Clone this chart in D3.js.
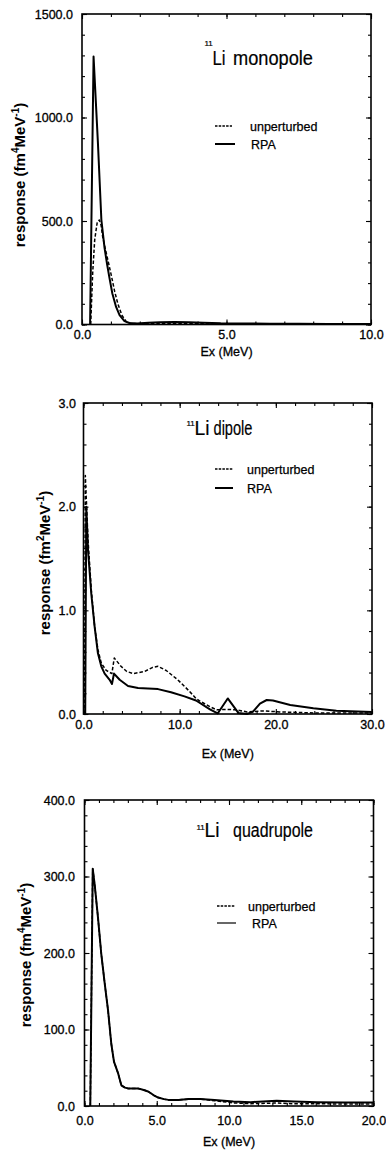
<!DOCTYPE html>
<html>
<head>
<meta charset="utf-8">
<script src="https://cdn.jsdelivr.net/npm/d3@7"></script>
<style>
  html, body { margin: 0; padding: 0; background: #fff; }
  svg { display: block; }
  text { font-family: "Liberation Sans", Arial, Helvetica, sans-serif; fill: #000; }
  .tick text { font-size: 12.5px; stroke: #000; stroke-width: 0.3px; }
  .xtitle { font-size: 12.5px; stroke: #000; stroke-width: 0.3px; }
  .ytitle { font-size: 15px; font-weight: bold; }
  .leg { font-size: 12.5px; stroke: #000; stroke-width: 0.25px; }
  .ttl { font-size: 20px; stroke: #000; stroke-width: 0.2px; }
  .sup { font-size: 8px; stroke: #000; stroke-width: 0.2px; }
</style>
</head>
<body>
<svg id="fig" width="386" height="1151"></svg>
<script>
// 11Li monopole response (fm^4 MeV^-1) vs excitation energy (MeV)
const monoUnpE = [0.30, 0.37, 0.44, 0.53, 0.60, 0.66, 0.72, 0.84, 0.93, 1.01, 1.13, 1.24, 1.38, 1.53, 1.70, 2.0, 2.5, 3.0, 4.0, 5.0, 6.0, 7.0, 8.0, 9.0, 10.0];
const monoUnpS = [0, 250, 410, 497, 505, 480, 420, 345, 290, 240, 160, 100, 45, 14, 5, 4, 5, 6, 4, 3, 3, 3, 3, 2, 2];
const monoRpaE = [0.28, 0.40, 0.55, 0.67, 0.78, 0.87, 0.95, 1.05, 1.18, 1.30, 1.47, 1.64, 1.9, 2.3, 2.7, 3.2, 3.7, 4.2, 4.8, 5.5, 6.5, 7.5, 8.5, 10.0];
const monoRpaS = [0, 1295, 880, 506, 370, 290, 225, 150, 85, 45, 16, 7, 5, 8, 11, 12, 11, 9, 6, 5, 4, 4, 3, 3];

// 11Li dipole response (fm^2 MeV^-1)
const dipUnpE = [0.12, 0.19, 0.47, 0.81, 1.16, 1.50, 1.85, 2.37, 2.95, 3.20, 3.90, 4.50, 5.15, 6.35, 7.20, 7.75, 8.60, 9.80, 10.9, 11.7, 12.1, 13.15, 13.85, 14.9, 15.9, 17.0, 18.7, 20.4, 23.9, 27.0, 30.0];
const dipUnpS = [0, 2.30, 1.68, 1.20, 0.84, 0.62, 0.49, 0.42, 0.39, 0.54, 0.46, 0.41, 0.39, 0.41, 0.45, 0.46, 0.42, 0.33, 0.23, 0.15, 0.125, 0.07, 0.04, 0.045, 0.04, 0.02, 0.03, 0.02, 0.01, 0.01, 0.01];
const dipRpaE = [0.18, 0.29, 0.47, 0.81, 1.16, 1.50, 1.85, 2.20, 2.72, 2.96, 3.17, 3.76, 4.63, 5.67, 6.70, 7.75, 9.10, 10.5, 11.7, 13.15, 13.95, 15.0, 16.1, 17.0, 17.6, 18.35, 19.05, 19.7, 21.5, 23.9, 26.3, 30.0];
const dipRpaS = [0, 2.00, 1.58, 1.16, 0.84, 0.585, 0.46, 0.39, 0.33, 0.29, 0.39, 0.33, 0.27, 0.25, 0.245, 0.24, 0.21, 0.17, 0.13, 0.045, 0.005, 0.15, 0.01, 0, 0.02, 0.10, 0.135, 0.13, 0.087, 0.055, 0.032, 0.02];

// 11Li quadrupole response (fm^4 MeV^-1)
const quadUnpE = [0.40, 0.57, 0.70, 0.93, 1.16, 1.40, 1.63, 1.85, 2.04, 2.32, 2.55, 2.80, 3.0, 3.4, 3.7, 4.1, 4.4, 4.8, 5.1, 5.5, 5.8, 6.5, 7.2, 8.0, 9.0, 10.3, 11.5, 13.3, 14.5, 16.1, 18.0, 20.0];
const quadUnpS = [0, 310, 290, 247, 199, 160, 125, 82, 58, 43, 27, 24, 23, 23, 23, 21, 19, 14, 11, 9, 8, 8, 9, 9, 7, 4, 3, 4, 3, 3, 2.5, 2.5];
const quadRpaE = [0.40, 0.57, 0.70, 0.93, 1.16, 1.40, 1.63, 1.85, 2.04, 2.32, 2.55, 2.80, 3.0, 3.4, 3.7, 4.1, 4.4, 4.8, 5.1, 5.5, 5.8, 6.5, 7.2, 8.0, 9.0, 10.3, 11.5, 13.3, 14.5, 16.1, 18.0, 20.0];
const quadRpaS = [0, 310, 290, 247, 199, 160, 125, 82, 58, 43, 27, 24, 23, 23, 23, 21, 19, 14, 11, 9, 8, 8, 9, 9, 8, 6, 5, 7, 6, 5, 4.5, 4.5];

// Axis ticks
const monoXTicks = [0, 5, 10];
const monoYTicks = [0, 500, 1000, 1500];
const dipXTicks = [0, 10, 20, 30];
const dipYTicks = [0, 1, 2, 3];
const quadXTicks = [0, 5, 10, 15, 20];
const quadYTicks = [0, 100, 200, 300, 400];

const legendNames = ["unperturbed", "RPA"];
const xTitle = "Ex (MeV)";

const panels = [
  {
    key: "mono", word: "monopole", wordLen: 80, liLen: 13, fmPow: "4",
    unp: d3.zip(monoUnpE, monoUnpS), rpa: d3.zip(monoRpaE, monoRpaS),
    xMax: 10, yMax: 1500, xTicks: monoXTicks, yTicks: monoYTicks, xMinor: 1, yMinor: 100,
    left: 82, right: 371, top: 14, bottom: 324.5,
    xPad: 6, yPad: 9, xTitleY: 356, yTitleX: 25, yTitleY: 175,
    sup: [204.5, 46], li: [212.5, 65], wordX: 233,
    leg: { dash: [215, 232, 126], unpTxt: [250, 130.5], solid: [215, 235, 144], rpaTxt: [251, 149], rpaW: 2 }
  },
  {
    key: "dip", word: "dipole", wordLen: 39, liLen: 15, fmPow: "2",
    unp: d3.zip(dipUnpE, dipUnpS), rpa: d3.zip(dipRpaE, dipRpaS),
    xMax: 30, yMax: 3, xTicks: dipXTicks, yTicks: dipYTicks, xMinor: 2, yMinor: 0.2,
    left: 83.5, right: 372, top: 403, bottom: 714,
    xPad: 6, yPad: 7.5, xTitleY: 758, yTitleX: 49.5, yTitleY: 563,
    sup: [186.5, 426], li: [194.5, 435], wordX: 213.5,
    leg: { dash: [215, 233, 469], unpTxt: [247, 474], solid: [215, 233, 488], rpaTxt: [247, 493], rpaW: 2 }
  },
  {
    key: "quad", word: "quadrupole", wordLen: 80, liLen: 15, fmPow: "4",
    unp: d3.zip(quadUnpE, quadUnpS), rpa: d3.zip(quadRpaE, quadRpaS),
    xMax: 20, yMax: 400, xTicks: quadXTicks, yTicks: quadYTicks, xMinor: 1, yMinor: 20,
    left: 84.5, right: 373.5, top: 800, bottom: 1106,
    xPad: 10, yPad: 9.5, xTitleY: 1146, yTitleX: 31, yTitleY: 955,
    sup: [196.5, 830], li: [204.5, 837], wordX: 233,
    leg: { dash: [217, 235, 906], unpTxt: [248, 911], solid: [217, 236, 923], rpaTxt: [252, 928], rpaW: 1.2 }
  }
];

const fig = d3.select("#fig");
fig.append("rect").attr("width", 386).attr("height", 1151).attr("fill", "#fff");

const fmt = d3.format(".1f");

panels.forEach(p => {
  const x = d3.scaleLinear().domain([0, p.xMax]).range([p.left, p.right]);
  const y = d3.scaleLinear().domain([0, p.yMax]).range([p.bottom, p.top]);
  const g = fig.append("g").attr("class", "panel-" + p.key);

  const clipId = "clip-" + p.key;
  g.append("clipPath").attr("id", clipId).append("rect")
    .attr("x", p.left).attr("y", p.top - 3)
    .attr("width", p.right - p.left).attr("height", p.bottom - p.top + 4);

  const minorX = d3.range(0, p.xMax + 1e-9, p.xMinor);
  const minorY = d3.range(0, p.yMax + 1e-9, p.yMinor);

  const strip = sel => { sel.select(".domain").remove(); sel.attr("font-family", null).attr("font-size", null); };

  // minor ticks, pointing inward on all four sides
  g.append("g").attr("transform", `translate(0,${p.bottom})`)
    .call(d3.axisBottom(x).tickValues(minorX).tickSize(-3).tickFormat("")).call(strip);
  g.append("g").attr("transform", `translate(0,${p.top})`)
    .call(d3.axisTop(x).tickValues(minorX).tickSize(-3).tickFormat("")).call(strip);
  g.append("g").attr("transform", `translate(${p.left},0)`)
    .call(d3.axisLeft(y).tickValues(minorY).tickSize(-3).tickFormat("")).call(strip);
  g.append("g").attr("transform", `translate(${p.right},0)`)
    .call(d3.axisRight(y).tickValues(minorY).tickSize(-3).tickFormat("")).call(strip);

  // major ticks with labels
  g.append("g").attr("transform", `translate(0,${p.bottom})`)
    .call(d3.axisBottom(x).tickValues(p.xTicks).tickSizeInner(-5).tickSizeOuter(0).tickPadding(p.xPad).tickFormat(fmt)).call(strip);
  g.append("g").attr("transform", `translate(0,${p.top})`)
    .call(d3.axisTop(x).tickValues(p.xTicks).tickSize(-5).tickFormat("")).call(strip);
  g.append("g").attr("transform", `translate(${p.left},0)`)
    .call(d3.axisLeft(y).tickValues(p.yTicks).tickSizeInner(-5).tickSizeOuter(0).tickPadding(p.yPad).tickFormat(fmt)).call(strip);
  g.append("g").attr("transform", `translate(${p.right},0)`)
    .call(d3.axisRight(y).tickValues(p.yTicks).tickSize(-5).tickFormat("")).call(strip);

  g.selectAll(".tick line").attr("stroke", "#000").attr("stroke-width", 1.1);

  // response curves
  const line = d3.line().x(d => x(d[0])).y(d => y(d[1]));
  const curves = g.append("g").attr("clip-path", `url(#${clipId})`);
  curves.append("path").datum(p.unp).attr("d", line)
    .attr("fill", "none").attr("stroke", "#000").attr("stroke-width", 1.5)
    .attr("stroke-dasharray", "3.5,2").attr("stroke-linejoin", "round");
  curves.append("path").datum(p.rpa).attr("d", line)
    .attr("fill", "none").attr("stroke", "#000").attr("stroke-width", 2)
    .attr("stroke-linejoin", "round");

  // frame
  g.append("rect").attr("x", p.left).attr("y", p.top)
    .attr("width", p.right - p.left).attr("height", p.bottom - p.top)
    .attr("fill", "none").attr("stroke", "#000").attr("stroke-width", 1.6);

  // axis titles
  g.append("text").attr("class", "xtitle")
    .attr("x", (p.left + p.right) / 2).attr("y", p.xTitleY)
    .attr("text-anchor", "middle").text(xTitle);

  const yt = g.append("text").attr("class", "ytitle")
    .attr("transform", `translate(${p.yTitleX},${p.yTitleY}) rotate(-90)`)
    .attr("text-anchor", "middle");
  yt.append("tspan").text("response (fm");
  yt.append("tspan").attr("dy", -6).attr("font-size", 10).text(p.fmPow);
  yt.append("tspan").attr("dy", 6).text("MeV");
  yt.append("tspan").attr("dy", -6).attr("font-size", 10).text("-1");
  yt.append("tspan").attr("dy", 6).text(")");

  // panel title: superscript mass number, element, multipolarity
  g.append("text").attr("class", "sup").attr("x", p.sup[0]).attr("y", p.sup[1]).text("11");
  g.append("text").attr("class", "ttl").attr("x", p.li[0]).attr("y", p.li[1])
    .attr("textLength", p.liLen).attr("lengthAdjust", "spacingAndGlyphs").text("Li");
  g.append("text").attr("class", "ttl").attr("x", p.wordX).attr("y", p.li[1])
    .attr("textLength", p.wordLen).attr("lengthAdjust", "spacingAndGlyphs").text(p.word);

  // legend
  const L = p.leg;
  g.append("line").attr("x1", L.dash[0]).attr("x2", L.dash[1]).attr("y1", L.dash[2]).attr("y2", L.dash[2])
    .attr("stroke", "#000").attr("stroke-width", 1.5).attr("stroke-dasharray", "2.5,1.2");
  g.append("text").attr("class", "leg").attr("x", L.unpTxt[0]).attr("y", L.unpTxt[1]).text(legendNames[0]);
  g.append("line").attr("x1", L.solid[0]).attr("x2", L.solid[1]).attr("y1", L.solid[2]).attr("y2", L.solid[2])
    .attr("stroke", "#000").attr("stroke-width", L.rpaW);
  g.append("text").attr("class", "leg").attr("x", L.rpaTxt[0]).attr("y", L.rpaTxt[1]).text(legendNames[1]);
});
</script>
</body>
</html>
